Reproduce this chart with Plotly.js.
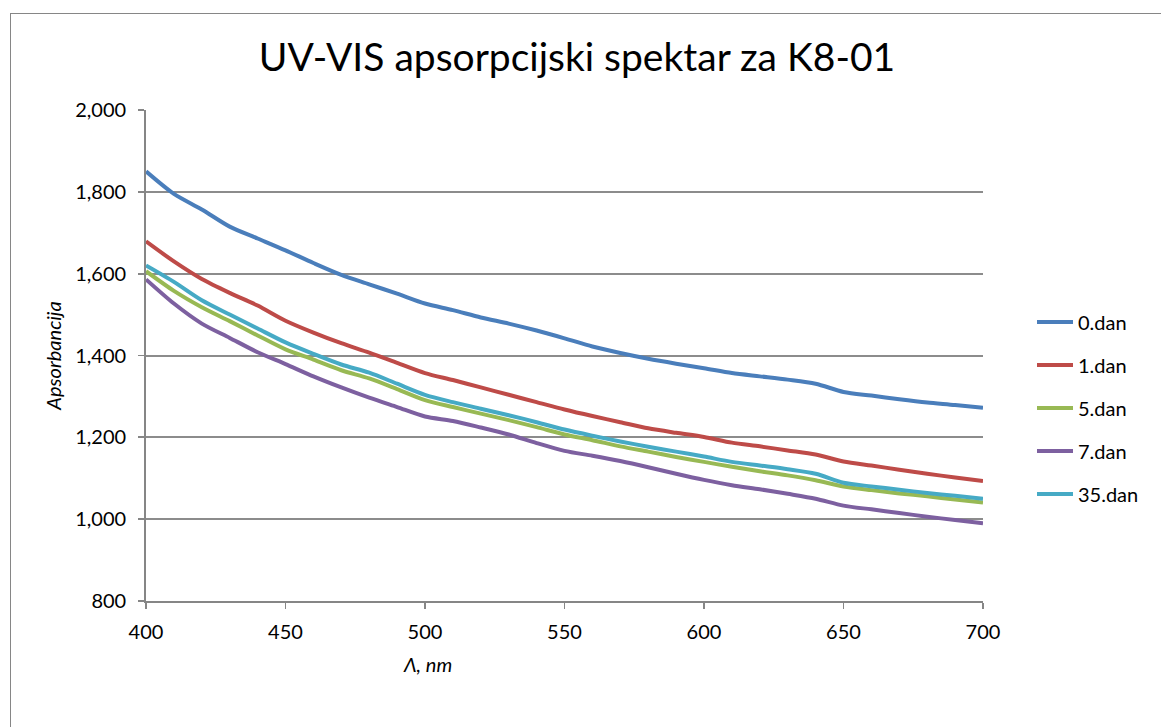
<!DOCTYPE html>
<html>
<head>
<meta charset="utf-8">
<script src="https://cdn.plot.ly/plotly-3.0.1.min.js"></script>
<style>
html,body{margin:0;padding:0;width:1161px;height:727px;overflow:hidden;background:#fff;}
#frame{position:absolute;left:10px;top:13px;width:1300px;height:900px;border:1.5px solid #868686;box-sizing:border-box;}
#chart{position:absolute;left:0;top:0;width:1161px;height:727px;}
</style>
</head>
<body>
<div id="frame"></div>
<div id="chart"></div>
<script>
const wavelength = [400,410,420,430,440,450,460,470,480,490,500,510,520,530,540,550,560,570,580,590,600,610,620,630,640,650,660,670,680,690,700];
const dan0  = [1850,1795,1757,1715,1686,1657,1626,1597,1574,1551,1527,1511,1493,1478,1461,1442,1422,1406,1392,1380,1369,1357,1349,1341,1331,1311,1302,1293,1285,1279,1272];
const dan1  = [1679,1630,1587,1553,1522,1485,1456,1430,1407,1382,1357,1340,1322,1304,1286,1268,1252,1237,1222,1211,1201,1187,1178,1168,1158,1141,1131,1121,1111,1102,1093];
const dan5  = [1606,1558,1518,1484,1449,1415,1390,1364,1344,1318,1291,1274,1258,1242,1225,1207,1193,1178,1165,1152,1140,1128,1117,1107,1095,1080,1071,1063,1056,1048,1041];
const dan7  = [1586,1527,1478,1443,1408,1379,1349,1322,1297,1274,1251,1240,1224,1207,1186,1167,1155,1142,1127,1111,1096,1083,1073,1062,1050,1033,1024,1015,1006,998,990];
const dan35 = [1620,1580,1535,1500,1466,1432,1404,1378,1358,1331,1304,1286,1270,1254,1237,1219,1204,1190,1177,1165,1153,1140,1131,1122,1111,1089,1080,1072,1064,1057,1050];
const seriesNames = ["0.dan","1.dan","5.dan","7.dan","35.dan"];
const seriesValues = [dan0, dan1, dan5, dan7, dan35];
const colors = ["#4A7EBB","#BE4B48","#98B954","#7D60A0","#46AAC5"];

const traces = seriesValues.map((v,i)=>({
  x: wavelength, y: v, type:'scatter', mode:'lines', name: seriesNames[i],
  legendgroup: 'g'+i,
  line:{color:colors[i], width:4, shape:'spline', smoothing:0.8}
}));

const font = "Lato, 'Open Sans', sans-serif";
const fs = 20;
const layout = {
  width:1161, height:727,
  margin:{l:146, r:178, t:110, b:126},
  paper_bgcolor:'rgba(0,0,0,0)', plot_bgcolor:'#fff',
  font:{family:font, size:fs, color:'#000'},
  title:{text:'UV-VIS apsorpcijski spektar za K8-01', font:{family:font, size:39, color:'#000'}, x:577/1161, xanchor:'center', y:1-57/727, yanchor:'middle'},
  xaxis:{range:[400,700], tickvals:[400,450,500,550,600,650,700], showgrid:false, zeroline:false,
    showline:true, linecolor:'#868686', linewidth:1.8, ticks:'outside', ticklen:6, tickcolor:'#868686', tickwidth:1.8,
    ticklabelstandoff:6, tickfont:{family:font,size:fs,color:'#000'}},
  yaxis:{range:[800,2000], tickvals:[800,1000,1200,1400,1600,1800,2000], tickformat:',d', showgrid:true, gridcolor:'#8c8c8c', gridwidth:2,
    zeroline:false, showline:true, linecolor:'#868686', linewidth:1.8, ticks:'outside', ticklen:6, tickcolor:'#868686', tickwidth:1.8,
    ticklabelstandoff:8, tickfont:{family:font,size:fs,color:'#000'},
    title:{text:'<i>Apsorbancija</i>', font:{family:font,size:fs,color:'#000'}, standoff:8}},
  legend:{x:(1032-146)/837, xanchor:'left', y:(601-408)/491, yanchor:'middle', traceorder:'grouped', tracegroupgap:14,
    itemwidth:36, font:{family:font,size:fs,color:'#000'}, bgcolor:'rgba(0,0,0,0)'},
  annotations:[{text:'<i>Λ, nm</i>', xref:'paper', yref:'paper', x:(427-146)/837, y:(601-664)/491, xanchor:'center', yanchor:'middle', showarrow:false, font:{family:font,size:fs,color:'#000'}}],
  showlegend:true
};
Plotly.newPlot('chart', traces, layout, {displayModeBar:false, staticPlot:true});
</script>
</body>
</html>
